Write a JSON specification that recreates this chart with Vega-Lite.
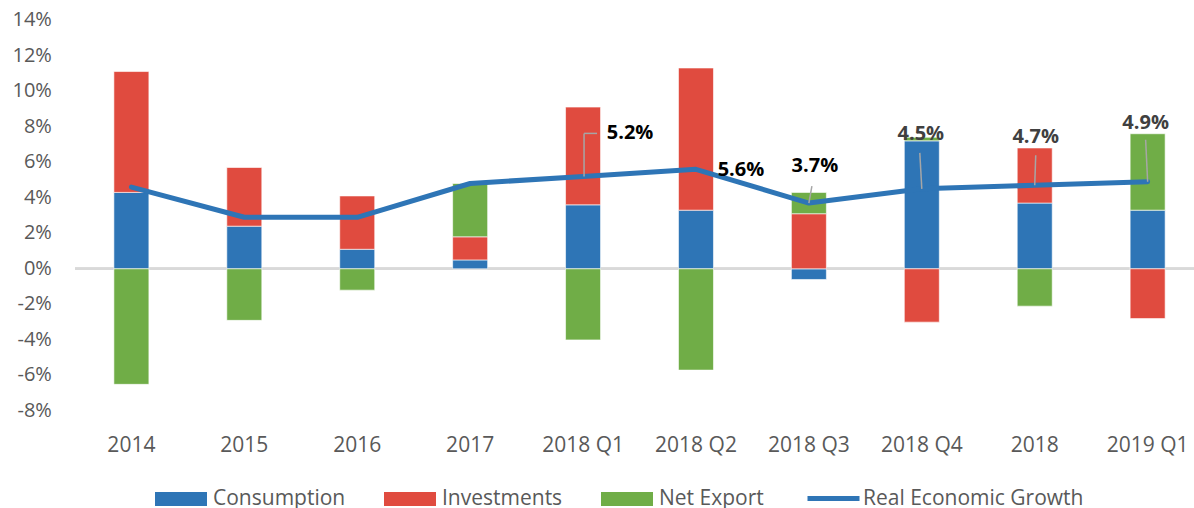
{
  "$schema": "https://vega.github.io/schema/vega-lite/v6.json",
  "width": 1119,
  "height": 391,
  "autosize": {"type": "none"},
  "padding": {"left": 75, "top": 20, "right": 0, "bottom": 97},
  "background": "white",
  "config": {
    "view": {"stroke": null},
    "font": "Open Sans",
    "axis": {"labelFont": "Open Sans", "labelColor": "#595959", "labelFontSize": 20, "domain": false, "ticks": false, "grid": false, "title": null},
    "axisY": {"labels": false}
  },
  "datasets": {
    "yticks": [
      {"tick": -8, "text": "-8%"},
      {"tick": -6, "text": "-6%"},
      {"tick": -4, "text": "-4%"},
      {"tick": -2, "text": "-2%"},
      {"tick": 0, "text": "0%"},
      {"tick": 2, "text": "2%"},
      {"tick": 4, "text": "4%"},
      {"tick": 6, "text": "6%"},
      {"tick": 8, "text": "8%"},
      {"tick": 10, "text": "10%"},
      {"tick": 12, "text": "12%"},
      {"tick": 14, "text": "14%"}
    ],
    "bars": [
      {"period": "2014", "series": "Consumption", "value": 4.3},
      {"period": "2014", "series": "Investments", "value": 6.8},
      {"period": "2014", "series": "Net Export", "value": -6.5},
      {"period": "2015", "series": "Consumption", "value": 2.4},
      {"period": "2015", "series": "Investments", "value": 3.3},
      {"period": "2015", "series": "Net Export", "value": -2.9},
      {"period": "2016", "series": "Consumption", "value": 1.1},
      {"period": "2016", "series": "Investments", "value": 3.0},
      {"period": "2016", "series": "Net Export", "value": -1.2},
      {"period": "2017", "series": "Consumption", "value": 0.5},
      {"period": "2017", "series": "Investments", "value": 1.3},
      {"period": "2017", "series": "Net Export", "value": 3.0},
      {"period": "2018 Q1", "series": "Consumption", "value": 3.6},
      {"period": "2018 Q1", "series": "Investments", "value": 5.5},
      {"period": "2018 Q1", "series": "Net Export", "value": -4.0},
      {"period": "2018 Q2", "series": "Consumption", "value": 3.3},
      {"period": "2018 Q2", "series": "Investments", "value": 8.0},
      {"period": "2018 Q2", "series": "Net Export", "value": -5.7},
      {"period": "2018 Q3", "series": "Consumption", "value": -0.6},
      {"period": "2018 Q3", "series": "Investments", "value": 3.1},
      {"period": "2018 Q3", "series": "Net Export", "value": 1.2},
      {"period": "2018 Q4", "series": "Consumption", "value": 7.2},
      {"period": "2018 Q4", "series": "Investments", "value": -3.0},
      {"period": "2018 Q4", "series": "Net Export", "value": 0.2},
      {"period": "2018", "series": "Consumption", "value": 3.7},
      {"period": "2018", "series": "Investments", "value": 3.1},
      {"period": "2018", "series": "Net Export", "value": -2.1},
      {"period": "2019 Q1", "series": "Consumption", "value": 3.3},
      {"period": "2019 Q1", "series": "Investments", "value": -2.8},
      {"period": "2019 Q1", "series": "Net Export", "value": 4.3}
    ],
    "growth": [
      {"period": "2014", "series": "Real Economic Growth", "growth": 4.6, "label": ""},
      {"period": "2015", "series": "Real Economic Growth", "growth": 2.9, "label": ""},
      {"period": "2016", "series": "Real Economic Growth", "growth": 2.9, "label": ""},
      {"period": "2017", "series": "Real Economic Growth", "growth": 4.8, "label": ""},
      {"period": "2018 Q1", "series": "Real Economic Growth", "growth": 5.2, "label": "5.2%"},
      {"period": "2018 Q2", "series": "Real Economic Growth", "growth": 5.6, "label": "5.6%"},
      {"period": "2018 Q3", "series": "Real Economic Growth", "growth": 3.7, "label": "3.7%"},
      {"period": "2018 Q4", "series": "Real Economic Growth", "growth": 4.5, "label": "4.5%"},
      {"period": "2018", "series": "Real Economic Growth", "growth": 4.7, "label": "4.7%"},
      {"period": "2019 Q1", "series": "Real Economic Growth", "growth": 4.9, "label": "4.9%"}
    ]
  },
  "layer": [
    {
      "data": {"name": "bars"},
      "mark": {"type": "rule", "color": "#d9d9d9", "strokeWidth": 2},
      "encoding": {
        "y": {
          "datum": 0, "type": "quantitative",
          "scale": {"domain": [-8, 14], "nice": false, "zero": false},
          "axis": {"labels": false}
        }
      }
    },
    {
      "data": {"name": "bars"},
      "mark": {"type": "bar", "stroke": "white", "strokeWidth": 1, "strokeOpacity": 0.6},
      "encoding": {
        "x": {
          "field": "period", "type": "nominal",
          "scale": {"domain": ["2014", "2015", "2016", "2017", "2018 Q1", "2018 Q2", "2018 Q3", "2018 Q4", "2018", "2019 Q1"], "paddingInner": 0.69, "paddingOuter": 0.3, "align": 0.574},
          "axis": {"labelAngle": 0, "labelPadding": 23, "labelFontSize": 21}
        },
        "y": {
          "field": "value", "type": "quantitative", "stack": "zero",
          "axis": {"labels": false}
        },
        "color": {
          "field": "series", "type": "nominal",
          "scale": {"domain": ["Consumption", "Investments", "Net Export"], "range": ["#2E75B6", "#E04B3F", "#70AD47"]},
          "legend": {
            "orient": "none", "legendX": 80, "legendY": 453, "direction": "horizontal", "title": null,
            "labelFont": "Open Sans", "labelFontSize": 21, "labelColor": "#595959", "labelOffset": 6, "labelLimit": 400,
            "columnPadding": 38, "symbolSize": 2704, "padding": 0,
            "symbolType": "M-1,-0.27L1,-0.27L1,0.27L-1,0.27Z", "symbolStrokeWidth": 0
          }
        },
        "order": {"field": "series", "sort": "ascending"}
      }
    },
    {
      "data": {"name": "yticks"},
      "mark": {"type": "text", "align": "right", "baseline": "middle", "dx": -62, "font": "Open Sans", "fontSize": 20, "color": "#595959"},
      "encoding": {
        "x": {"datum": "2014", "type": "nominal", "bandPosition": 0},
        "y": {"field": "tick", "type": "quantitative", "axis": {"labels": false}},
        "text": {"field": "text"}
      }
    },
    {
      "data": {"name": "growth"},
      "mark": {"type": "line", "strokeWidth": 5, "strokeCap": "round", "strokeJoin": "round"},
      "encoding": {
        "x": {"field": "period", "type": "nominal", "bandPosition": 0.5},
        "y": {"field": "growth", "type": "quantitative", "axis": {"labels": false}},
        "stroke": {
          "field": "series", "type": "nominal",
          "scale": {"domain": ["Real Economic Growth"], "range": ["#2E75B6"]},
          "legend": {
            "orient": "none", "legendX": 730, "legendY": 450, "direction": "horizontal", "title": null,
            "labelFont": "Open Sans", "labelFontSize": 21, "labelColor": "#595959", "labelOffset": 1, "labelLimit": 400,
            "symbolSize": 2704, "padding": 0,
            "symbolType": "M-1,0L1,0", "symbolStrokeWidth": 5
          }
        }
      }
    },
    {
      "data": {"name": "growth"},
      "transform": [{"filter": "datum.period === '2018 Q1'"}],
      "mark": {"type": "rule", "color": "#a6a6a6", "strokeWidth": 1.5, "y2Offset": -43, "xOffset": 1, "x2Offset": 1},
      "encoding": {"x": {"field": "period", "type": "nominal", "bandPosition": 0.5}, "y": {"field": "growth", "type": "quantitative"}, "y2": {"field": "growth"}}
    },
    {
      "data": {"name": "growth"},
      "transform": [{"filter": "datum.period === '2018 Q1'"}],
      "mark": {"type": "rule", "color": "#a6a6a6", "strokeWidth": 1.5, "yOffset": -43, "y2Offset": -43, "xOffset": 1, "x2Offset": 14},
      "encoding": {"x": {"field": "period", "type": "nominal", "bandPosition": 0.5}, "x2": {"field": "period", "bandPosition": 0.5}, "y": {"field": "growth", "type": "quantitative"}, "y2": {"field": "growth"}}
    },
    {
      "data": {"name": "growth"},
      "transform": [{"filter": "datum.period === '2018 Q3'"}],
      "mark": {"type": "rule", "color": "#a6a6a6", "strokeWidth": 1.5, "y2Offset": -17, "x2Offset": 3},
      "encoding": {"x": {"field": "period", "type": "nominal", "bandPosition": 0.5}, "x2": {"field": "period", "bandPosition": 0.5}, "y": {"field": "growth", "type": "quantitative"}, "y2": {"field": "growth"}}
    },
    {
      "data": {"name": "growth"},
      "transform": [{"filter": "datum.period === '2018 Q4'"}],
      "mark": {"type": "rule", "color": "#a6a6a6", "strokeWidth": 1.5, "y2Offset": -36, "x2Offset": -2},
      "encoding": {"x": {"field": "period", "type": "nominal", "bandPosition": 0.5}, "x2": {"field": "period", "bandPosition": 0.5}, "y": {"field": "growth", "type": "quantitative"}, "y2": {"field": "growth"}}
    },
    {
      "data": {"name": "growth"},
      "transform": [{"filter": "datum.period === '2018'"}],
      "mark": {"type": "rule", "color": "#a6a6a6", "strokeWidth": 1.5, "y2Offset": -30, "x2Offset": 1},
      "encoding": {"x": {"field": "period", "type": "nominal", "bandPosition": 0.5}, "x2": {"field": "period", "bandPosition": 0.5}, "y": {"field": "growth", "type": "quantitative"}, "y2": {"field": "growth"}}
    },
    {
      "data": {"name": "growth"},
      "transform": [{"filter": "datum.period === '2019 Q1'"}],
      "mark": {"type": "rule", "color": "#a6a6a6", "strokeWidth": 1.5, "y2Offset": -42, "x2Offset": -2},
      "encoding": {"x": {"field": "period", "type": "nominal", "bandPosition": 0.5}, "x2": {"field": "period", "bandPosition": 0.5}, "y": {"field": "growth", "type": "quantitative"}, "y2": {"field": "growth"}}
    },
    {
      "data": {"name": "growth"},
      "transform": [{"filter": "datum.period === '2018 Q1'"}],
      "mark": {"type": "text", "dx": 47, "dy": -43, "font": "Open Sans", "fontSize": 20, "fontWeight": "bold", "color": "#000000"},
      "encoding": {"x": {"field": "period", "type": "nominal", "bandPosition": 0.5}, "y": {"field": "growth", "type": "quantitative"}, "text": {"field": "label"}}
    },
    {
      "data": {"name": "growth"},
      "transform": [{"filter": "datum.period === '2018 Q2'"}],
      "mark": {"type": "text", "dx": 45, "dy": 1, "font": "Open Sans", "fontSize": 20, "fontWeight": "bold", "color": "#000000"},
      "encoding": {"x": {"field": "period", "type": "nominal", "bandPosition": 0.5}, "y": {"field": "growth", "type": "quantitative"}, "text": {"field": "label"}}
    },
    {
      "data": {"name": "growth"},
      "transform": [{"filter": "datum.period === '2018 Q3'"}],
      "mark": {"type": "text", "dx": 6, "dy": -37, "font": "Open Sans", "fontSize": 20, "fontWeight": "bold", "color": "#000000"},
      "encoding": {"x": {"field": "period", "type": "nominal", "bandPosition": 0.5}, "y": {"field": "growth", "type": "quantitative"}, "text": {"field": "label"}}
    },
    {
      "data": {"name": "growth"},
      "transform": [{"filter": "datum.period === '2018 Q4'"}],
      "mark": {"type": "text", "dx": -1, "dy": -55, "font": "Open Sans", "fontSize": 20, "fontWeight": "bold", "color": "#404040"},
      "encoding": {"x": {"field": "period", "type": "nominal", "bandPosition": 0.5}, "y": {"field": "growth", "type": "quantitative"}, "text": {"field": "label"}}
    },
    {
      "data": {"name": "growth"},
      "transform": [{"filter": "datum.period === '2018'"}],
      "mark": {"type": "text", "dx": 1, "dy": -48, "font": "Open Sans", "fontSize": 20, "fontWeight": "bold", "color": "#404040"},
      "encoding": {"x": {"field": "period", "type": "nominal", "bandPosition": 0.5}, "y": {"field": "growth", "type": "quantitative"}, "text": {"field": "label"}}
    },
    {
      "data": {"name": "growth"},
      "transform": [{"filter": "datum.period === '2019 Q1'"}],
      "mark": {"type": "text", "dx": -2, "dy": -59, "font": "Open Sans", "fontSize": 20, "fontWeight": "bold", "color": "#404040"},
      "encoding": {"x": {"field": "period", "type": "nominal", "bandPosition": 0.5}, "y": {"field": "growth", "type": "quantitative"}, "text": {"field": "label"}}
    }
  ]
}
